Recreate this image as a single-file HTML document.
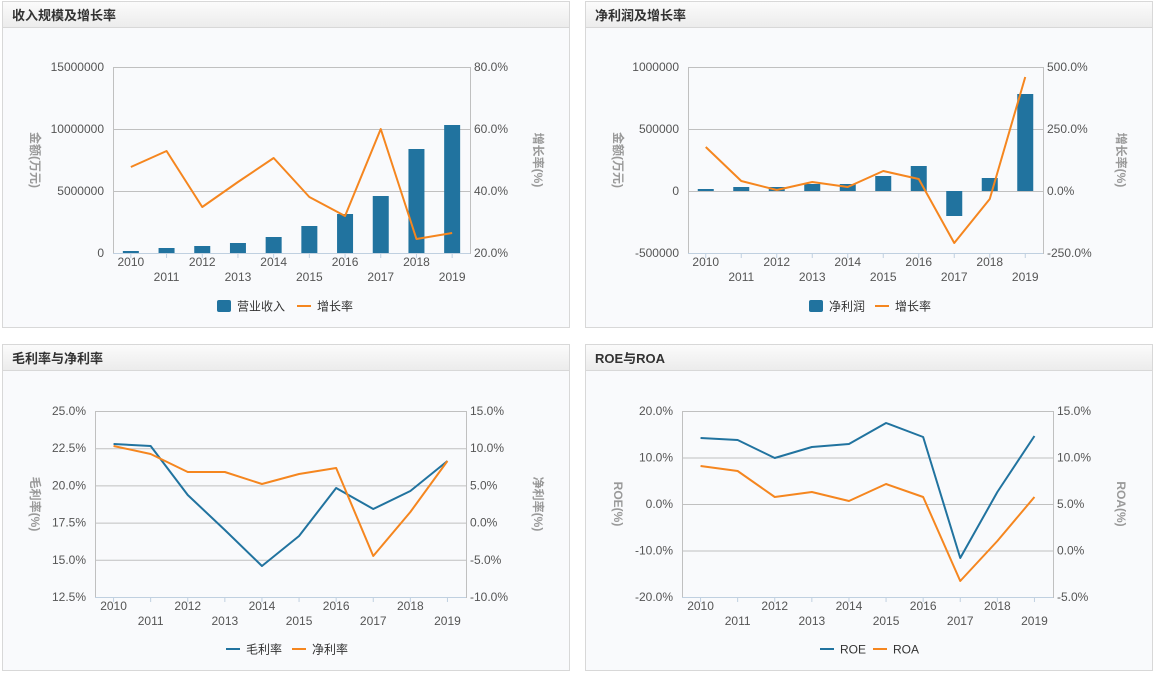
<!DOCTYPE html>
<html><head><meta charset="utf-8"><style>
html,body{margin:0;padding:0;background:#fff;width:1155px;height:677px;overflow:hidden}
svg{display:block}
text{font-family:"Liberation Sans","Noto Sans CJK SC",sans-serif}
</style></head><body>
<svg id="s" width="1155" height="677" xmlns="http://www.w3.org/2000/svg">
<defs><linearGradient id="hg" x1="0" y1="0" x2="0" y2="1"><stop offset="0" stop-color="#fbfbfb"/><stop offset="1" stop-color="#ececec"/></linearGradient></defs>
</svg>
<script>
var s=document.getElementById('s'),h='';
var B='#21739f',O='#f5861f';
function panel(x,y,w,hh,t){h+='<rect x="'+(x+.5)+'" y="'+(y+.5)+'" width="'+w+'" height="'+hh+'" fill="#f9fafc" stroke="#d8d8d8"/>';
h+='<rect x="'+(x+1)+'" y="'+(y+1)+'" width="'+(w-1)+'" height="25" fill="url(#hg)"/><line x1="'+x+'" x2="'+(x+w)+'" y1="'+(y+26.5)+'" y2="'+(y+26.5)+'" stroke="#d8d8d8"/>';
h+='<text x="'+(x+10)+'" y="'+(y+19)+'" font-size="13" font-weight="bold" fill="#333">'+t+'</text>';}
function chart(c){var L=c.l,R=c.r,T=c.t,Bt=c.b,n=c.ly.length,cw=(R-L)/10;
 for(var i=0;i<n;i++){var y=T+(Bt-T)*i/(n-1);h+='<line x1="'+L+'" x2="'+R+'" y1="'+(y+.5)+'" y2="'+(y+.5)+'" stroke="#c0c0c0"/>';
 h+='<text x="'+(L-9)+'" y="'+(y+4)+'" font-size="12" fill="#555" text-anchor="end">'+c.ly[i]+'</text>';
 h+='<text x="'+(R+4)+'" y="'+(y+4)+'" font-size="12" fill="#555">'+c.ry[i]+'</text>';}
 h+='<rect x="'+(L+.5)+'" y="'+(T+.5)+'" width="'+(R-L)+'" height="'+(Bt-T)+'" fill="none" stroke="#c0c0c0"/>';
 h+='<line x1="'+L+'" x2="'+R+'" y1="'+(Bt+.5)+'" y2="'+(Bt+.5)+'" stroke="#c0d0e0"/>';
 for(var i=0;i<10;i++){var cx=L+cw*(i+.5);h+='<line x1="'+cx+'" x2="'+cx+'" y1="'+Bt+'" y2="'+(Bt+5)+'" stroke="#c0d0e0"/>';
 h+='<text x="'+cx+'" y="'+(Bt+(i%2?28:13))+'" font-size="12" fill="#555" text-anchor="middle">'+(2010+i)+'</text>';}
 if(c.bars){for(var i=0;i<10;i++){var cx=L+cw*(i+.5),v=c.bars[i],z=c.zero;h+='<rect x="'+(cx-8)+'" y="'+Math.min(v,z)+'" width="16" height="'+Math.max(Math.abs(z-v),1)+'" fill="'+B+'"/>';}}
 c.lines.forEach(function(ln){var p=ln[1].map(function(v,i){return (L+cw*(i+.5))+','+v}).join(' ');h+='<polyline points="'+p+'" fill="none" stroke="'+ln[0]+'" stroke-width="2" stroke-linejoin="round"/>';});
 var my=(T+Bt)/2;
 h+='<text transform="translate('+c.ax1+','+my+') rotate(90)" font-size="12" font-weight="bold" fill="#999" text-anchor="middle">'+c.t1+'</text>';
 h+='<text transform="translate('+c.ax2+','+my+') rotate(90)" font-size="12" font-weight="bold" fill="#999" text-anchor="middle">'+c.t2+'</text>';
 var lx=c.lx,ly=c.legy;c.leg.forEach(function(g){if(g[0]=='b')h+='<rect x="'+lx+'" y="'+(ly-6)+'" width="14" height="12" rx="2" fill="'+B+'"/>';else h+='<line x1="'+lx+'" x2="'+(lx+14)+'" y1="'+ly+'" y2="'+ly+'" stroke="'+g[1]+'" stroke-width="2"/>';
 h+='<text x="'+(lx+20)+'" y="'+(ly+4.5)+'" font-size="12" fill="#333">'+g[2]+'</text>';lx+=g[3];});}
panel(2,1,567,326,'收入规模及增长率');panel(585,1,567,326,'净利润及增长率');panel(2,344,567,326,'毛利率与净利率');panel(585,344,567,326,'ROE与ROA');
chart({l:113,r:470,t:67,b:253,ly:['15000000','10000000','5000000','0'],ry:['80.0%','60.0%','40.0%','20.0%'],bars:[251,248,246,243,237,226,214,196,149,125],zero:253,
 lines:[[O,[167,151,207,182,158,197,216,129,239,233]]],t1:'金额(万元)',t2:'增长率(%)',ax1:31,ax2:534,lx:217,legy:306,leg:[['b',B,'营业收入',80],['l',O,'增长率',60]]});
chart({l:688,r:1043,t:67,b:253,ly:['1000000','500000','0','-500000'],ry:['500.0%','250.0%','0.0%','-250.0%'],bars:[189,187,187,184,184,176,166,216,178,94],zero:191,
 lines:[[O,[147,181,190,182,187,171,179,243,199,77]]],t1:'金额(万元)',t2:'增长率(%)',ax1:614,ax2:1117,lx:809,legy:306,leg:[['b',B,'净利润',66],['l',O,'增长率',60]]});
chart({l:95,r:466,t:411,b:597,ly:['25.0%','22.5%','20.0%','17.5%','15.0%','12.5%'],ry:['15.0%','10.0%','5.0%','0.0%','-5.0%','-10.0%'],
 lines:[[B,[444,446,495,530,566,536,488,509,491,461]],[O,[446,454,472,472,484,474,468,556,512,461]]],t1:'毛利率(%)',t2:'净利率(%)',ax1:31,ax2:534,lx:226,legy:649,leg:[['l',B,'毛利率',66],['l',O,'净利率',60]]});
chart({l:682,r:1053,t:411,b:597,ly:['20.0%','10.0%','0.0%','-10.0%','-20.0%'],ry:['15.0%','10.0%','5.0%','0.0%','-5.0%'],
 lines:[[B,[438,440,458,447,444,423,437,558,492,436]],[O,[466,471,497,492,501,484,497,581,541,497]]],t1:'ROE(%)',t2:'ROA(%)',ax1:614,ax2:1117,lx:820,legy:649,leg:[['l',B,'ROE',53],['l',O,'ROA',60]]});
s.insertAdjacentHTML('beforeend',h);
</script>
</body></html>
